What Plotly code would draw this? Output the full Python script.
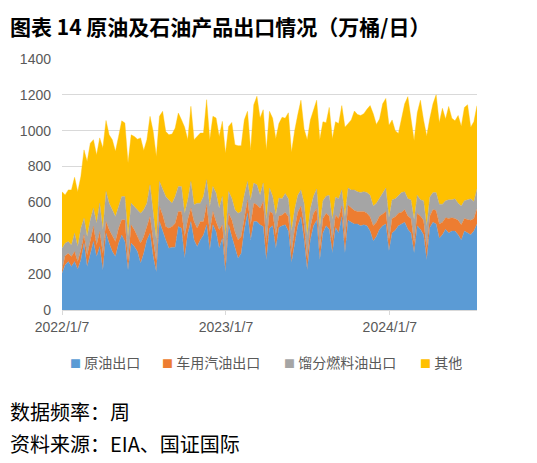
import plotly.graph_objects as go
import pandas as pd

# weekly values, 万桶/日, starting 2022/1/7
crude = [205, 251, 270, 242, 270, 227, 279, 372, 242, 316,
         382, 298, 354, 223, 428, 372, 326, 298, 372, 419,
         382, 223, 372, 354, 326, 261, 316, 391, 428, 298,
         214, 493, 437, 391, 345, 350, 350, 466, 456, 289,
         428, 493, 391, 354, 391, 419, 475, 335, 475, 437,
         345, 400, 214, 475, 410, 345, 289, 316, 447, 540,
         391, 493, 493, 475, 466, 279, 456, 470, 345, 460,
         470, 475, 440, 265, 380, 470, 520, 390, 225, 390,
         470, 500, 280, 430, 470, 450, 320, 460, 430, 520,
         320, 500, 490, 480, 480, 470, 475, 470, 440, 385,
         410, 450, 470, 480, 330, 430, 445, 470, 480, 490,
         450, 430, 320, 470, 450, 420, 280, 460, 490, 480,
         400, 420, 450, 430, 440, 440, 420, 390, 440, 430,
         420, 440, 480]
gasoline = [18, 51, 46, 56, 56, 43, 56, 47, 65, 66,
            84, 65, 83, 93, 65, 75, 84, 84, 84, 84,
            121, 47, 103, 93, 84, 111, 94, 75, 93, 93,
            56, 84, 94, 75, 111, 116, 134, 83, 93, 121,
            75, 75, 102, 102, 102, 74, 112, 102, 74, 56,
            102, 75, 47, 65, 93, 92, 102, 94, 65, 74,
            84, 103, 94, 93, 139, 93, 93, 70, 75, 65,
            60, 70, 80, 55, 70, 75, 60, 85, 60, 75,
            70, 65, 60, 80, 70, 75, 65, 70, 80, 60,
            75, 85, 80, 75, 70, 80, 75, 70, 80, 85,
            80, 75, 65, 70, 60, 80, 75, 70, 65, 70,
            75, 80, 55, 70, 75, 80, 60, 65, 70, 75,
            80, 70, 65, 80, 75, 70, 80, 85, 70, 75,
            80, 70, 85]
distillate = [122, 70, 66, 65, 102, 84, 121, 93, 103, 121,
              102, 121, 159, 131, 168, 149, 149, 139, 121, 130,
              130, 140, 121, 130, 149, 168, 149, 130, 177, 140,
              121, 140, 139, 167, 158, 130, 149, 140, 140, 130,
              111, 149, 94, 140, 103, 140, 139, 140, 140, 159,
              121, 158, 149, 121, 121, 122, 149, 139, 130, 103,
              139, 112, 111, 74, 103, 131, 131, 95, 110, 100,
              90, 105, 100, 120, 110, 95, 90, 120, 130, 100,
              95, 110, 125, 100, 95, 115, 120, 100, 110, 90,
              125, 95, 100, 115, 110, 105, 110, 115, 120, 110,
              105, 100, 120, 130, 125, 105, 100, 95, 110, 100,
              95, 105, 130, 100, 90, 110, 130, 105, 95, 100,
              110, 100, 95, 105, 100, 110, 95, 105, 100, 110,
              120, 95, 110]
other = [315, 270, 288, 307, 312, 306, 289, 381, 418, 427,
         382, 381, 364, 456, 396, 381, 391, 364, 391, 422,
         410, 410, 381, 391, 394, 420, 331, 354, 382, 465,
         465, 363, 438, 363, 363, 385, 382, 410, 372, 480,
         336, 419, 363, 372, 391, 354, 447, 373, 391, 419,
         400, 419, 465, 363, 422, 363, 376, 367, 419, 391,
         279, 437, 494, 429, 409, 390, 428, 435, 425, 415,
         455, 420, 480, 440, 440, 450, 500, 415, 535, 495,
         475, 495, 485, 440, 410, 490, 450, 420, 420, 470,
         500, 360, 390, 440, 430, 430, 435, 465, 500, 515,
         440, 440, 495, 500, 515, 445, 380, 350, 410, 490,
         570, 445, 440, 460, 555, 450, 500, 440, 495, 545,
         455, 535, 455, 520, 455, 435, 490, 445, 520, 530,
         400, 445, 465]

dates = pd.date_range("2022-01-07", periods=len(crude), freq="7D")

names = ["原油出口", "车用汽油出口", "馏分燃料油出口", "其他"]
colors = ["#5B9BD5", "#ED7D31", "#A5A5A5", "#FFC000"]
series = [crude, gasoline, distillate, other]

tick_vals = ["2022-01-07", "2023-01-07", "2024-01-07"]
tick_text = ["2022/1/7", "2023/1/7", "2024/1/7"]

fig = go.Figure()
for name, color, vals in zip(names, colors, series):
    fig.add_trace(go.Scatter(
        x=dates, y=vals, name=name, mode="lines", stackgroup="one",
        line=dict(width=0.4, color=color), fillcolor=color,
        showlegend=False, hoverinfo="x+y+name"))

# plot area: left 54, top 51, width 415, height 251 (page adds 8px body margin)
PW, PH, PL, PB = 415, 251, 54, 302


def px_x(x):
    return (x - PL) / PW


def px_y(y):
    return (PB - y) / PH


annotations = [
    dict(text="<b>图表 14 原油及石油产品出口情况（万桶/日）</b>", xref="paper", yref="paper",
         x=px_x(0), y=px_y(1), xanchor="left", yanchor="top", showarrow=False,
         font=dict(family="Noto Sans CJK SC", size=21, color="#000000")),
    dict(text="数据频率：周", xref="paper", yref="paper",
         x=px_x(0), y=px_y(403), xanchor="left", yanchor="middle", showarrow=False,
         font=dict(family="Noto Sans CJK SC", size=20, color="#000000")),
    dict(text="资料来源：EIA、国证国际", xref="paper", yref="paper",
         x=px_x(0), y=px_y(435), xanchor="left", yanchor="middle", showarrow=False,
         font=dict(family="Noto Sans CJK SC", size=20, color="#000000")),
]

# legend row drawn as text so it stays on one line like the original
legend_x = [60, 152, 274, 410]
for name, color, lx in zip(names, colors, legend_x):
    annotations.append(dict(
        text=f'<span style="color:{color};font-size:11px">■</span> {name}',
        xref="paper", yref="paper", x=px_x(lx), y=px_y(354),
        xanchor="left", yanchor="middle", showarrow=False,
        font=dict(family="Noto Sans CJK SC", size=14, color="#595959")))

fig.update_layout(
    width=529, height=455,
    margin=dict(l=54, r=60, t=51, b=153),
    paper_bgcolor="white", plot_bgcolor="white",
    font=dict(family="Liberation Sans, Noto Sans CJK SC", size=14, color="#595959"),
    showlegend=False,
    xaxis=dict(type="date", range=[dates[0], dates[-1]],
               tickvals=tick_vals, ticktext=tick_text,
               showgrid=False, showline=True, linecolor="#D9D9D9", linewidth=1,
               ticks="outside", ticklen=4, tickcolor="#D9D9D9",
               tickfont=dict(size=14, color="#595959")),
    yaxis=dict(range=[0, 1400], dtick=200, showgrid=True, gridcolor="#D9D9D9",
               gridwidth=1, zeroline=False, showline=False, ticklabelstandoff=10,
               tickfont=dict(size=14, color="#595959"), ticklen=0),
    annotations=annotations,
)

fig.write_html("out.html")
